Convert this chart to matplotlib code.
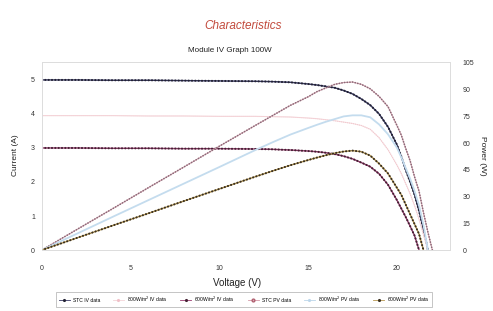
import matplotlib
matplotlib.use('Agg')
import matplotlib.pyplot as plt
from matplotlib.lines import Line2D
import numpy as np

plt.rcParams['font.family'] = ['Liberation Sans', 'DejaVu Sans']

# voltage points (V)
voltage = [0, 2, 4, 6, 8, 10, 12, 13, 14, 15, 15.5, 16, 16.5, 17, 17.5, 18,
           18.5, 19, 19.5, 20, 20.25, 20.5, 20.75, 21, 21.25, 21.5, 21.75, 22]
nan = np.nan

# current (A)
stc_iv = [5.0, 5.0, 4.99, 4.99, 4.98, 4.97, 4.96, 4.95, 4.93, 4.88, 4.85, 4.81,
          4.77, 4.69, 4.59, 4.44, 4.26, 4.0, 3.62, 3.1, 2.75, 2.35, 2.0, 1.62,
          1.15, 0.6, 0.0, nan]
w800_iv = [3.95, 3.95, 3.95, 3.94, 3.94, 3.93, 3.93, 3.92, 3.91, 3.88, 3.86, 3.83,
           3.8, 3.76, 3.72, 3.66, 3.55, 3.3, 2.95, 2.5, 2.25, 1.95, 1.65, 1.3,
           0.9, 0.45, 0.0, nan]
w600_iv = [3.0, 3.0, 2.99, 2.99, 2.98, 2.98, 2.97, 2.96, 2.94, 2.91, 2.89, 2.86,
           2.82, 2.76, 2.68, 2.57, 2.45, 2.24, 1.92, 1.47, 1.22, 0.97, 0.7, 0.42,
           0.0, nan, nan, nan]

# power (W)
stc_pv = [0, 11.7, 23.3, 35.0, 46.6, 58.3, 69.8, 75.5, 81.2, 86.0, 88.9, 91.0,
          93.0, 94.0, 94.3, 93.0, 90.5, 86.2, 80.5, 70.0, 64.5, 57.0, 50.0, 41.0,
          33.0, 21.0, 10.0, 0.0]
w800_pv = [0, 9.3, 18.7, 28.0, 37.3, 46.6, 56.0, 60.5, 64.8, 68.5, 70.3, 72.0,
           73.5, 75.0, 75.6, 75.6, 74.5, 70.5, 65.0, 57.5, 52.0, 46.0, 40.0, 33.0,
           25.0, 14.0, 0.0, nan]
w600_pv = [0, 6.9, 13.8, 20.6, 27.5, 34.3, 41.1, 44.4, 47.6, 50.5, 51.9, 53.2,
           54.4, 55.3, 55.8, 55.2, 53.0, 48.5, 43.0, 35.0, 31.0, 25.5, 20.0, 14.5,
           9.0, 0.0, nan, nan]

labels = ['STC IV data', '800W/m$^2$ IV data', '600W/m$^2$ IV data',
          'STC PV data', '800W/m$^2$ PV data', '600W/m$^2$ PV data']


def dotted(ax, x, y, color, dotcolor, lw=1.0, dlw=1.5):
    ax.plot(x, y, color=color, lw=lw, solid_capstyle='round')
    if dotcolor is not None:
        ax.plot(x, y, color=dotcolor, lw=dlw, linestyle=(0, (0.1, 1.5)),
                dash_capstyle='round')


fig = plt.figure(figsize=(4.93, 3.11), dpi=100)
ax = fig.add_axes([0.085, 0.196, 0.828, 0.605])
ax2 = ax.twinx()

dotted(ax, voltage, stc_iv, '#3a3a66', '#222233')
dotted(ax, voltage, w800_iv, '#f6dde0', '#f2c8ce', lw=0.7, dlw=0.9)
dotted(ax, voltage, w600_iv, '#9a3c70', '#442233')
dotted(ax2, voltage, stc_pv, '#dcaab6', '#8a6a78', lw=0.8, dlw=1.2)
dotted(ax2, voltage, w800_pv, '#c4dcee', None, lw=1.3)
dotted(ax2, voltage, w600_pv, '#b89850', '#3a3020')

ax.set_xlim(0, 23)
ax.set_ylim(0, 5.53)
ax2.set_ylim(0, 105.6)
ax.set_xticks([0, 5, 10, 15, 20])
ax.set_yticks([0, 1, 2, 3, 4, 5])
ax2.set_yticks(range(0, 106, 15))

for a in (ax, ax2):
    for s in a.spines.values():
        s.set_color('#dddddd')
        s.set_linewidth(0.6)
ax.tick_params(axis='x', length=0, pad=11, labelsize=5, colors='#333333')
ax.tick_params(axis='y', length=0, pad=5, labelsize=5, colors='#333333')
ax2.tick_params(axis='y', length=0, pad=9, labelsize=5, colors='#333333')

fig.text(0.493, 0.916, 'Characteristics', ha='center', va='center',
         fontsize=8.5, style='italic', color='#c24a3c')
fig.text(0.466, 0.839, 'Module IV Graph 100W', ha='center', va='center',
         fontsize=5.8, color='#222222')
fig.text(0.48, 0.09, 'Voltage (V)', ha='center', va='center',
         fontsize=7, color='#222222')
fig.text(0.032, 0.5, 'Current (A)', ha='center', va='center', rotation=90,
         fontsize=6, color='#222222')
fig.text(0.978, 0.5, 'Power (W)', ha='center', va='center', rotation=270,
         fontsize=6, color='#222222')

handles = [
    Line2D([], [], color='#3a3a66', lw=0.6, marker='.', ms=2.5, mfc='#222233', mec='#222233'),
    Line2D([], [], color='#f4d4d8', lw=0.6, marker='.', ms=2.5, mfc='#f0c0c8', mec='#f0c0c8'),
    Line2D([], [], color='#9a3c70', lw=0.6, marker='.', ms=2.5, mfc='#442233', mec='#442233'),
    Line2D([], [], color='#d49aa8', lw=0.6, marker='o', ms=2, mfc='none', mec='#b06070'),
    Line2D([], [], color='#bcd6ea', lw=0.6, marker='.', ms=2.5, mfc='#bcd6ea', mec='#bcd6ea'),
    Line2D([], [], color='#b89850', lw=0.6, marker='.', ms=2.5, mfc='#3a3020', mec='#3a3020'),
]
leg = fig.legend(handles, labels, loc='center', bbox_to_anchor=(0.495, 0.037),
                 ncol=6, fontsize=3.6, frameon=True, fancybox=False,
                 handlelength=2.2, handletextpad=0.6, columnspacing=2.6,
                 borderpad=0.5, edgecolor='#999999')
leg.get_frame().set_linewidth(0.5)

fig.savefig('out.png', dpi=100)
